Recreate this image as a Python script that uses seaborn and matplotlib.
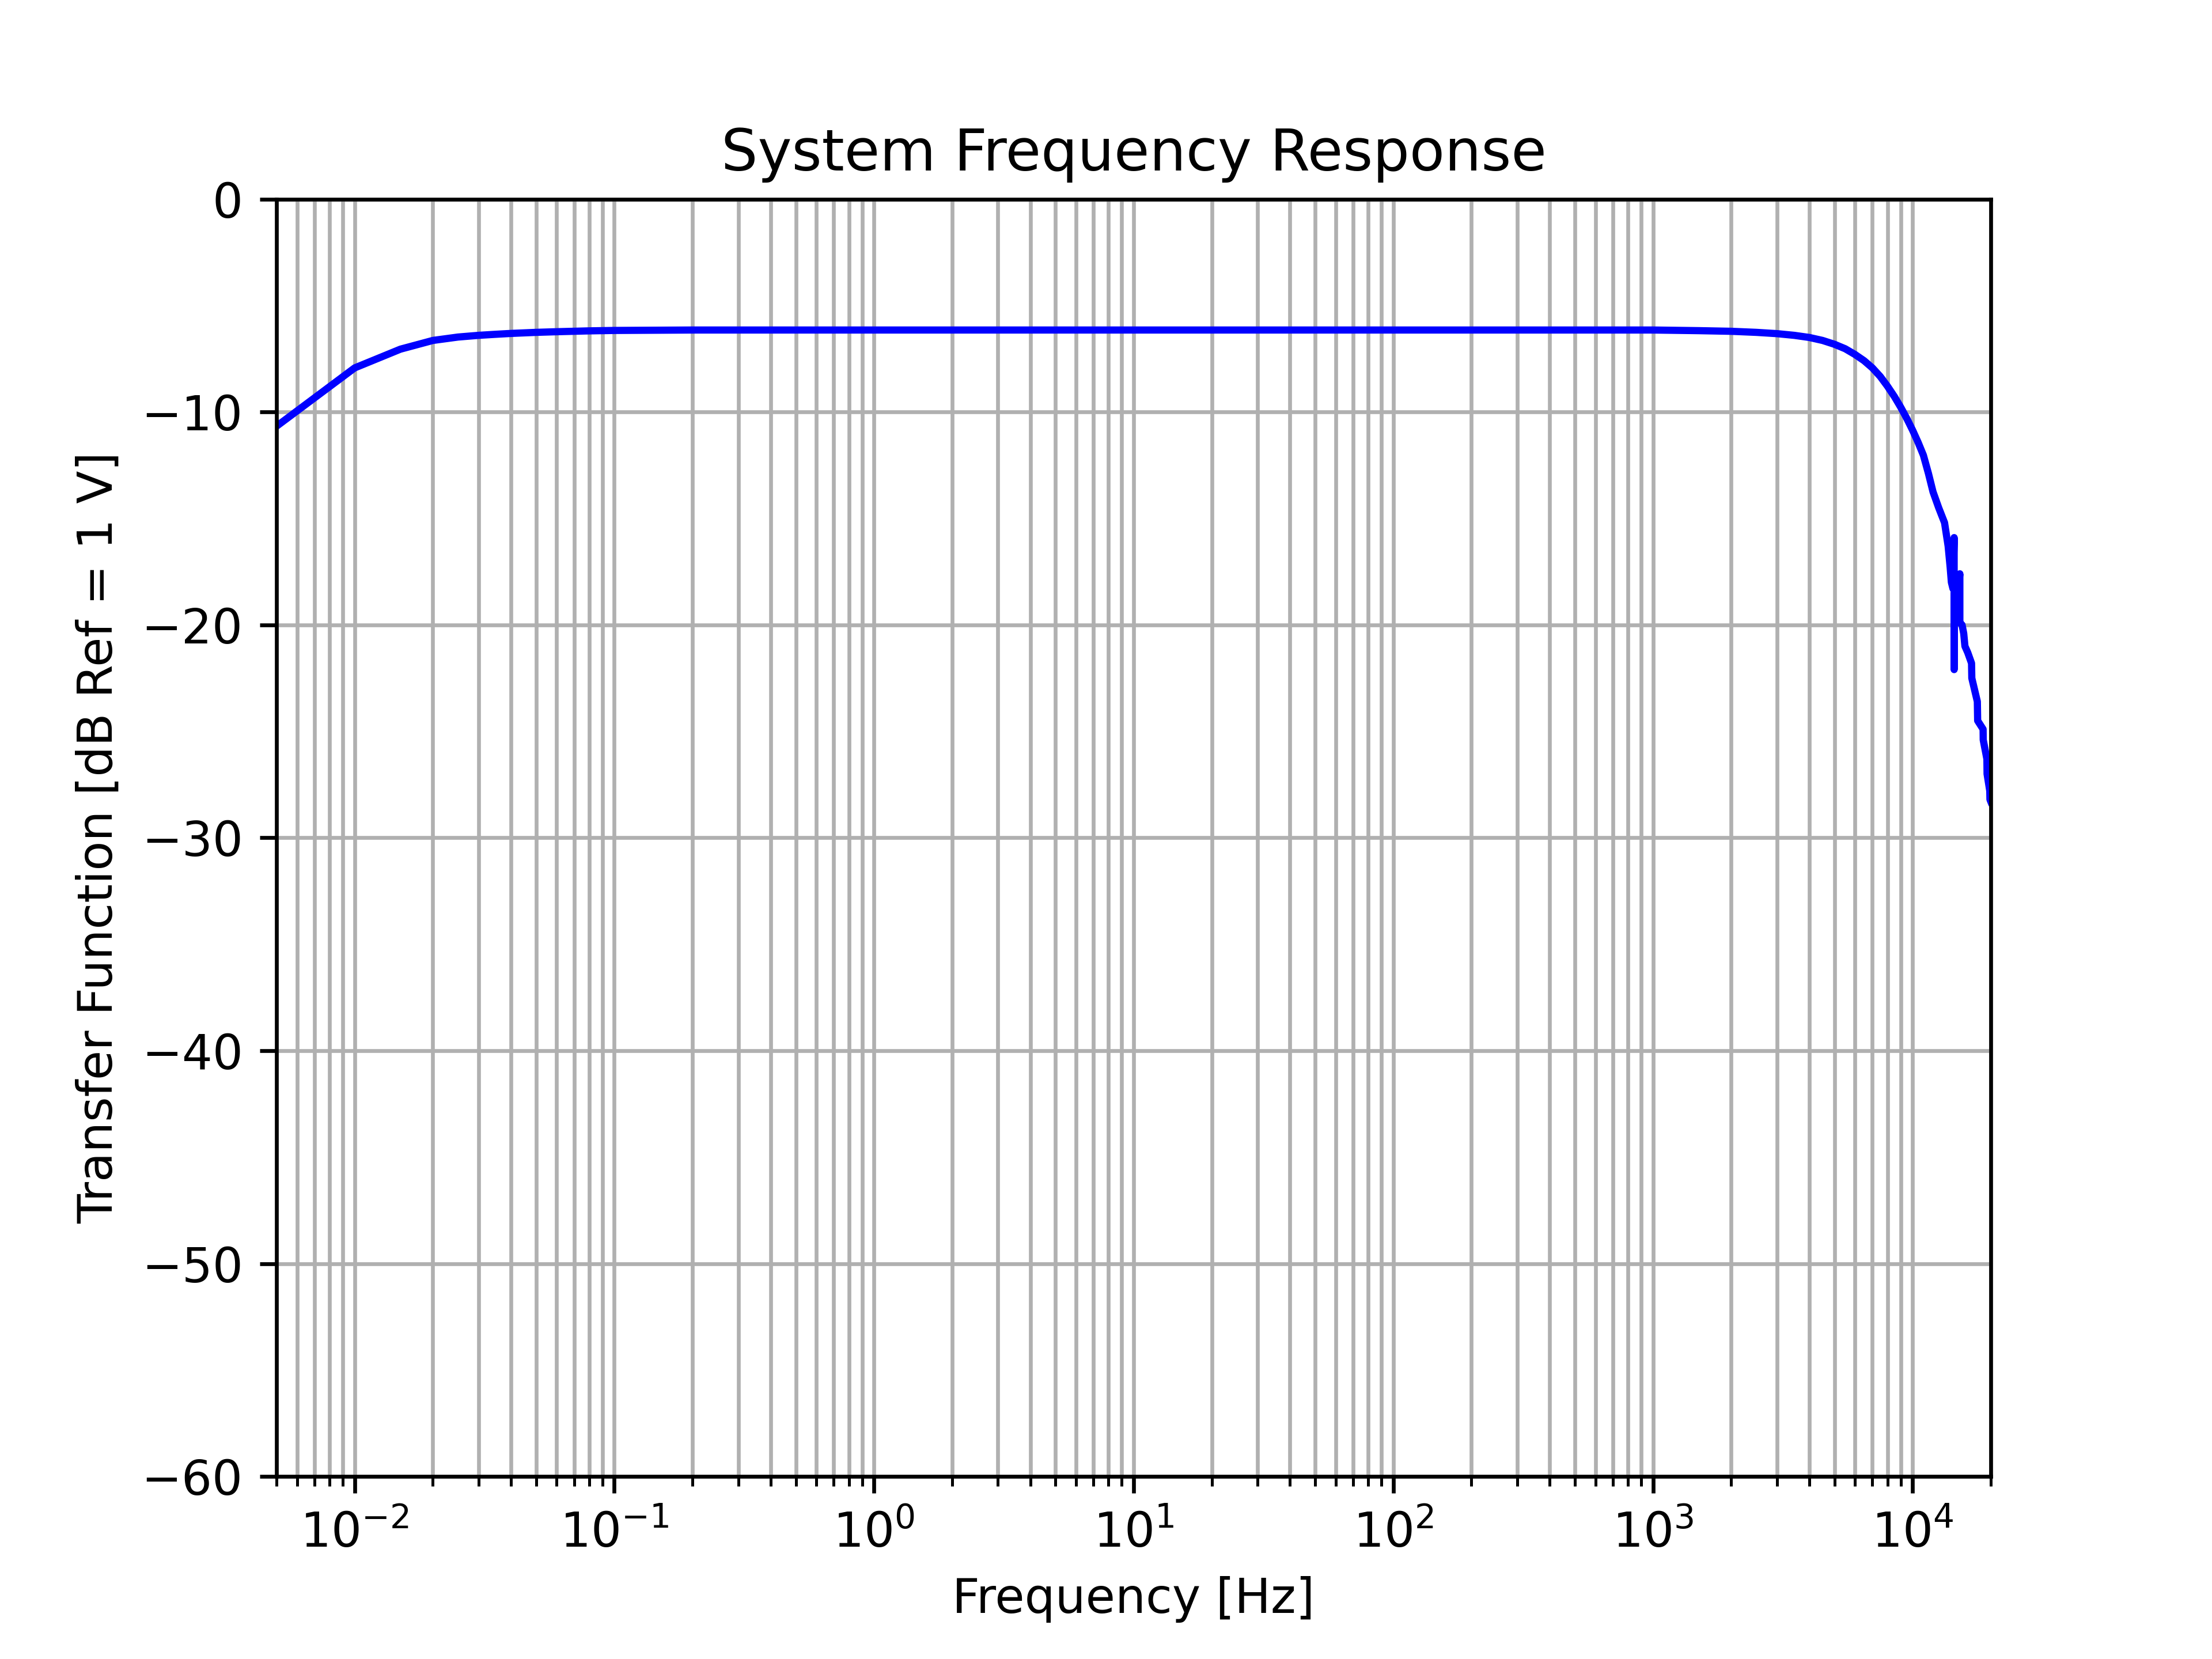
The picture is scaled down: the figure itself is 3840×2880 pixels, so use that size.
import numpy as np
import matplotlib
matplotlib.use("Agg")
import matplotlib.pyplot as plt
import seaborn as sns
import pandas as pd

# frequency [Hz] and transfer function [dB]
freq = [0.005, 0.01, 0.015, 0.02, 0.025, 0.03, 0.035, 0.04, 0.05, 0.06,
        0.08, 0.1, 0.2, 0.5, 1, 10, 100, 1000,
        1500, 2000, 2500, 3000, 3500, 4000, 4500, 5000, 5500, 6000, 6500,
        7000, 7500, 8000, 8500, 9000, 9500, 10000, 10500, 11000, 11500,
        11980, 12600, 13270, 13700, 13950, 14100, 14300, 14450, 14450,
        14500, 14800, 15200, 15200, 15500, 15730, 15900, 16300, 16860,
        16900, 17750, 17800, 18680, 18700, 19320, 19350, 19820, 19850, 20000]
gain_db = [-10.67, -7.93, -7.05, -6.64, -6.48, -6.40, -6.35, -6.31, -6.26, -6.23,
           -6.19, -6.17, -6.15, -6.15, -6.15, -6.15, -6.15, -6.15,
           -6.18, -6.21, -6.26, -6.32, -6.40, -6.50, -6.64, -6.82, -7.03, -7.30, -7.59,
           -7.93, -8.33, -8.79, -9.27, -9.78, -10.31, -10.86, -11.43, -12.03, -12.88,
           -13.75, -14.50, -15.20, -16.30, -17.30, -18.00, -18.30, -15.90, -22.10,
           -18.50, -19.00, -17.60, -19.90, -20.00, -20.40, -21.00, -21.30, -21.80,
           -22.50, -23.60, -24.50, -24.90, -25.40, -26.30, -27.00, -27.80, -28.20, -28.30]

df = pd.DataFrame({"Frequency [Hz]": freq, "Transfer Function": gain_db})

fig, ax = plt.subplots(figsize=(6.4, 4.8), dpi=600)
sns.lineplot(data=df, x="Frequency [Hz]", y="Transfer Function", ax=ax,
             color="b", linewidth=1.5, sort=False, estimator=None)
ax.set_xscale("log")
ax.set_xlim(0.005, 20000)
ax.set_ylim(-60, 0)
ax.grid(True, which="both")
ax.set_axisbelow(True)
ax.set_title("System Frequency Response")
ax.set_xlabel("Frequency [Hz]")
ax.set_ylabel("Transfer Function [dB Ref = 1 V]")

fig.savefig("out.png", dpi=600)
